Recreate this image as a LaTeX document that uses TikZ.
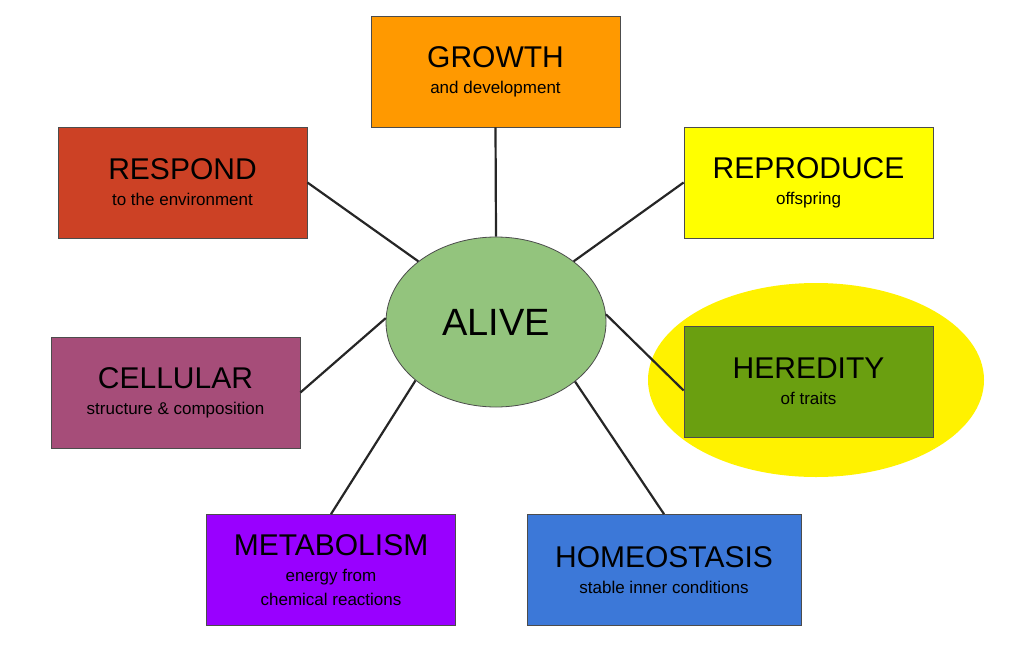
\documentclass[tikz,border=0pt]{standalone}
\usepackage{fontspec}
\setmainfont{Liberation Sans}
\usetikzlibrary{shapes.geometric}
\definecolor{cgrow}{HTML}{FF9900}
\definecolor{cresp}{HTML}{CC4125}
\definecolor{crepr}{HTML}{FFFF00}
\definecolor{ccell}{HTML}{A64D79}
\definecolor{chere}{HTML}{6A9F10}
\definecolor{cmeta}{HTML}{9900FF}
\definecolor{chome}{HTML}{3C78D8}
\definecolor{calive}{HTML}{93C47D}
\tikzset{
  box/.style={draw=black!70, line width=0.8pt, minimum width=249pt, minimum height=111pt, align=center, inner sep=2pt, font=\fontsize{17}{24}\selectfont},
  link/.style={line width=2.2pt, black!85},
}
\newcommand{\ttl}[1]{{\fontsize{30}{34}\selectfont #1}}
\begin{document}
\begin{tikzpicture}[x=1pt,y=-1pt]
\useasboundingbox (0,0) rectangle (1024,661);
\fill[yellow] (816,380) ellipse [x radius=168, y radius=97];
\node[box, fill=cgrow] (growth) at (495.5,71.5) {\ttl{GROWTH}\\[2pt]and development};
\node[box, fill=cresp] (respond) at (182.5,182.5) {\ttl{RESPOND}\\[2pt]to the environment};
\node[box, fill=crepr] (repro) at (808.5,182.5) {\ttl{REPRODUCE}\\[2pt]offspring};
\node[box, fill=ccell] (cell) at (175.5,392.5) {\ttl{CELLULAR}\\[2pt]structure \& composition};
\node[box, fill=chere] (hered) at (808.5,381.5) {\ttl{HEREDITY}\\[2pt]of traits};
\node[box, fill=cmeta] (meta) at (331,570) {\ttl{METABOLISM}\\[2pt]energy from\\chemical reactions};
\node[box, fill=chome, minimum width=274pt] (homeo) at (664,570) {\ttl{HOMEOSTASIS}\\[2pt]stable inner conditions};
\node[ellipse, draw=black!70, line width=0.8pt, fill=calive, minimum width=220pt, minimum height=170pt, inner sep=0pt] (alive) at (496,322) {\fontsize{38}{40}\selectfont ALIVE};
\draw[link] (growth.south) -- (alive.north);
\draw[link] (respond.east) -- (alive.142);
\draw[link] (repro.west) -- (alive.38);
\draw[link] (cell.east) -- (alive.178);
\draw[link] ([yshift=-9pt]hered.west) -- (alive.4);
\draw[link] (meta.north) -- (alive.216);
\draw[link] (homeo.north) -- (alive.-37);
\end{tikzpicture}
\end{document}
